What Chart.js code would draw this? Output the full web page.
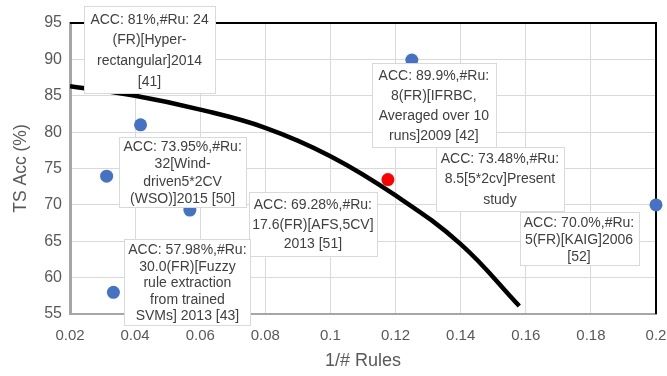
<!DOCTYPE html>
<html>
<head>
<meta charset="utf-8">
<script src="https://cdn.jsdelivr.net/npm/chart.js@4.4.0/dist/chart.umd.min.js"></script>
<style>
  html, body { margin: 0; padding: 0; background: #fff; }
  #wrap { width: 667px; height: 376px; }
</style>
</head>
<body>
<div id="wrap"><canvas id="chart" width="667" height="376"></canvas></div>
<script>
// published results: 1/#rules against test accuracy
const ruleInv = [1 / 24, 1 / 8, 1 / 32, 1 / 17.6, 1 / 30, 1 / 8.5, 1 / 5];
const accVals = [81, 89.9, 73.95, 69.28, 57.98, 73.48, 70.0];
const pointColors = ['#4472C4', '#4472C4', '#4472C4', '#4472C4', '#4472C4', '#FF0000', '#4472C4'];
const labelTexts = [
    ['ACC: 81%,#Ru: 24', '(FR)[Hyper-', 'rectangular]2014', '[41]'],
    ['ACC: 89.9%,#Ru:', '8(FR)[IFRBC,', 'Averaged over 10', 'runs]2009 [42]'],
    ['ACC: 73.95%,#Ru:', '32[Wind-', 'driven5*2CV', '(WSO)]2015 [50]'],
    ['ACC: 69.28%,#Ru:', '17.6(FR)[AFS,5CV]', '2013 [51]'],
    ['ACC: 57.98%,#Ru:', '30.0(FR)[Fuzzy', 'rule extraction', 'from trained', 'SVMs] 2013 [43]'],
    ['ACC: 73.48%,#Ru:', '8.5[5*2cv]Present', 'study'],
    ['ACC: 70.0%,#Ru:', '5(FR)[KAIG]2006', '[52]']
];

// trade-off curve
const curveX = [0.02, 0.04, 0.06, 0.08, 0.10, 0.12, 0.14, 0.158];
const curveY = [86.3, 85.0, 83.1, 80.6, 76.7, 71.3, 64.6, 56.1];

const xTicks = [0.02, 0.04, 0.06, 0.08, 0.1, 0.12, 0.14, 0.16, 0.18, 0.2];
const yTicks = [55, 60, 65, 70, 75, 80, 85, 90, 95];

// label boxes, placed relative to their point (pixels)
const boxes = [
    { dx: 9, dy: -75, w: 131, h: 87, lh: 20.6 },
    { dx: 22, dy: 45, w: 124, h: 84, lh: 20.2 },
    { dx: 76, dy: -4, w: 127, h: 70, lh: 17.4 },
    { dx: 123, dy: 14, w: 128, h: 64, lh: 19.5 },
    { dx: 74, dy: -10, w: 126, h: 86, lh: 16.6 },
    { dx: 112, dy: -1, w: 128, h: 64, lh: 20.3 },
    { dx: -77, dy: 34, w: 119, h: 53, lh: 17 }
];

const FONT = "'Liberation Sans', Arial, sans-serif";

const framePlugin = {
    id: 'framePlugin',
    beforeDatasetsDraw(chart) {
        const { ctx, chartArea: a } = chart;
        ctx.save();
        ctx.strokeStyle = '#000';
        ctx.lineWidth = 2;
        ctx.beginPath();
        ctx.moveTo(a.left, a.top);
        ctx.lineTo(a.right, a.top);
        ctx.lineTo(a.right, a.bottom);
        ctx.stroke();
        ctx.restore();
    },
    afterDatasetsDraw(chart) {
        const { ctx } = chart;
        const xs = chart.scales.x, ys = chart.scales.y;
        ctx.save();
        ctx.font = '14px ' + FONT;
        ctx.textAlign = 'center';
        ctx.textBaseline = 'middle';
        for (let i = 0; i < boxes.length; i++) {
            const b = boxes[i];
            const cx = xs.getPixelForValue(ruleInv[i]) + b.dx;
            const cy = ys.getPixelForValue(accVals[i]) + b.dy;
            const left = Math.round(cx - b.w / 2) + 0.5;
            const top = Math.round(cy - b.h / 2) + 0.5;
            ctx.fillStyle = '#fff';
            ctx.fillRect(left, top, b.w, b.h);
            ctx.strokeStyle = '#d9d9d9';
            ctx.lineWidth = 1;
            ctx.strokeRect(left, top, b.w, b.h);
            const lines = labelTexts[i];
            const y0 = cy - (lines.length - 1) * b.lh / 2 + 1;
            ctx.fillStyle = '#404040';
            lines.forEach((t, k) => ctx.fillText(t, cx, y0 + k * b.lh));
        }
        ctx.restore();
    }
};

const ctx = document.getElementById('chart');
new Chart(ctx, {
    type: 'scatter',
    data: {
        datasets: [{
            type: 'line',
            data: curveX.map((x, i) => ({ x: x, y: curveY[i] })),
            borderColor: '#000',
            borderWidth: 4.5,
            borderCapStyle: 'butt',
            pointRadius: 0,
            tension: 0.4,
            fill: false
        }, {
            data: ruleInv.map((x, i) => ({ x: x, y: accVals[i] })),
            backgroundColor: pointColors,
            borderWidth: 0,
            pointRadius: 6.5,
            clip: false
        }]
    },
    options: {
        responsive: false,
        animation: false,
        layout: { padding: { top: 23, right: 11, bottom: 4, left: 0 } },
        plugins: { legend: { display: false }, tooltip: { enabled: false } },
        scales: {
            x: {
                type: 'linear',
                min: 0.02,
                max: 0.2,
                afterBuildTicks: s => { s.ticks = xTicks.map(v => ({ value: v })); },
                afterFit: s => { s.height = 58; s.paddingLeft = 0; s.paddingRight = 0; },
                grid: { color: '#d9d9d9', drawTicks: false },
                border: { color: '#a6a6a6', width: 2 },
                ticks: {
                    color: '#595959',
                    padding: 13,
                    maxRotation: 0,
                    font: { family: FONT, size: 15 },
                    callback: v => String(Number(v.toFixed(2)))
                },
                title: {
                    display: true,
                    text: '1/# Rules',
                    color: '#595959',
                    padding: { top: 0, bottom: 0 },
                    font: { family: FONT, size: 18 }
                }
            },
            y: {
                min: 55,
                max: 95,
                afterBuildTicks: s => { s.ticks = yTicks.map(v => ({ value: v })); },
                afterFit: s => { s.width = 70; s.paddingTop = 0; s.paddingBottom = 0; },
                grid: { color: '#d9d9d9', drawTicks: false },
                border: { color: '#a6a6a6', width: 3 },
                ticks: {
                    color: '#595959',
                    padding: 8,
                    font: { family: FONT, size: 16 }
                },
                title: {
                    display: true,
                    text: 'TS Acc (%)',
                    color: '#595959',
                    padding: { top: 11, bottom: 0 },
                    font: { family: FONT, size: 17.5 }
                }
            }
        }
    },
    plugins: [framePlugin]
});
</script>
</body>
</html>
